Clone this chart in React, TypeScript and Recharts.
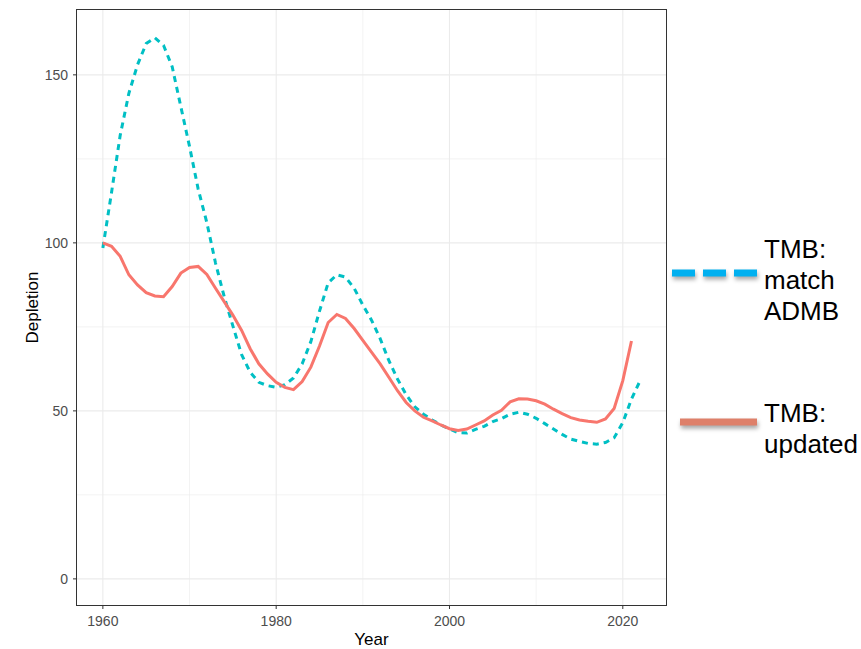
import React from 'react';
import {
  LineChart,
  Line,
  XAxis,
  YAxis,
  CartesianGrid,
  Label,
} from 'recharts';

// years and the two depletion series
const years = Array.from({length: 63}, (_, i) => 1960 + i);

const updated = [
  100, 99, 96, 90.5, 87.5, 85.2, 84.2, 84, 87, 91,
  92.7, 93, 90.6, 86.5, 82.5, 78.5, 74, 68.5, 64, 61,
  58.5, 57, 56.3, 58.7, 63, 69.3, 76.3, 78.7, 77.5, 74.5,
  71, 67.5, 64, 60, 56, 52.5, 50, 48.1, 47, 45.8,
  44.7, 44.2, 44.6, 45.8, 47, 48.8, 50.2, 52.7, 53.6, 53.5,
  53, 52, 50.5, 49.2, 48, 47.3, 46.9, 46.6, 47.6, 50.7,
  59, 70.8,
];

const matchAdmb = [
  98.5, 115, 132, 144.5, 153, 159.3, 161, 158.8, 152.4, 140.5,
  128.7, 116, 106, 94, 84, 75.3, 66.8, 61.5, 58.5, 57.5,
  57, 57.8, 59.8, 64, 70.6, 79.7, 88.1, 90.5, 89.8, 86.5,
  81.5, 77, 71.5, 65, 59.5, 54.8, 51.2, 49, 47.3, 45.8,
  44.6, 43.5, 43.4, 44.5, 45.4, 46.8, 47.7, 49, 49.6, 49,
  47.8, 46.2, 44.6, 43, 41.6, 40.9, 40.3, 40.1, 40.6, 42,
  46.5, 53.5, 59,
];

const xTicks = [1960, 1980, 2000, 2020];
const xGridMinor = [1970, 1990, 2010];
const yTicks = [0, 50, 100, 150];
const yGridMinor = [25, 75, 125];

const legendMatch = ['TMB:', 'match', 'ADMB'];
const legendUpdated = ['TMB:', 'updated'];

const data = years.map((year, i) => ({
  year,
  updated: updated[i],
  match: matchAdmb[i],
}));

const font = 'Liberation Sans, Arial, sans-serif';
const tickStyle = {fill: '#4D4D4D', fontSize: 14, fontFamily: font};

const LegendText: React.FC<{lines: string[]; top: number}> = ({lines, top}) => (
  <div
    style={{
      position: 'absolute',
      left: 764,
      top,
      fontFamily: font,
      fontSize: 26,
      lineHeight: '31px',
      color: '#000',
    }}
  >
    {lines.map((l) => (
      <div key={l}>{l}</div>
    ))}
  </div>
);

export default function App() {
  return (
    <div style={{position: 'absolute', left: 0, top: 0, width: 861, height: 649, background: '#fff'}}>
      <LineChart
        width={861}
        height={649}
        data={data}
        margin={{top: 9, right: 194, bottom: 0, left: 0}}
      >
        <CartesianGrid
          stroke="#EBEBEB"
          strokeWidth={0.6}
          horizontalValues={yGridMinor}
          verticalValues={xGridMinor}
        />
        <CartesianGrid
          stroke="#EBEBEB"
          strokeWidth={1.1}
          horizontalValues={yTicks}
          verticalValues={xTicks}
        />
        <XAxis
          dataKey="year"
          type="number"
          domain={[1956.9, 2025.1]}
          ticks={xTicks}
          allowDataOverflow
          height={43}
          axisLine={false}
          tickSize={3}
          tickMargin={7}
          tickLine={{stroke: '#333333'}}
          tick={tickStyle}
        >
          <Label
            value="Year"
            position="insideBottom"
            offset={4}
            style={{fill: '#000', fontSize: 17, fontFamily: font}}
          />
        </XAxis>
        <YAxis
          type="number"
          domain={[-8.07, 169.6]}
          ticks={yTicks}
          allowDataOverflow
          width={76}
          axisLine={false}
          tickSize={3}
          tickMargin={5}
          tickLine={{stroke: '#333333'}}
          tick={tickStyle}
        >
          <Label
            value="Depletion"
            angle={-90}
            position="insideLeft"
            offset={32}
            style={{fill: '#000', fontSize: 17, fontFamily: font, textAnchor: 'middle'}}
          />
        </YAxis>
        <Line
          type="linear"
          dataKey="match"
          stroke="#00BFC4"
          strokeWidth={3}
          strokeDasharray="6 5"
          dot={false}
          isAnimationActive={false}
        />
        <Line
          type="linear"
          dataKey="updated"
          stroke="#F8766D"
          strokeWidth={3}
          dot={false}
          isAnimationActive={false}
        />
      </LineChart>

      {/* panel border */}
      <div
        style={{
          position: 'absolute',
          left: 76,
          top: 9,
          width: 591,
          height: 597,
          boxSizing: 'border-box',
          border: '1px solid #333333',
          pointerEvents: 'none',
        }}
      />

      {/* legend drawn over the right side, like the pasted-in keys of the original */}
      <svg
        width={100}
        height={20}
        style={{position: 'absolute', left: 668, top: 263, overflow: 'visible', filter: 'drop-shadow(1px 3px 2px rgba(0,0,0,0.35))'}}
      >
        <line x1={4} y1={10} x2={89} y2={10} stroke="#00B0F0" strokeWidth={7} strokeDasharray="23 8" />
      </svg>
      <LegendText lines={legendMatch} top={233.5} />

      <svg
        width={100}
        height={20}
        style={{position: 'absolute', left: 676, top: 411.5, overflow: 'visible', filter: 'drop-shadow(1px 3px 2px rgba(0,0,0,0.35))'}}
      >
        <line x1={4} y1={10} x2={81} y2={10} stroke="#DE806A" strokeWidth={7} />
      </svg>
      <LegendText lines={legendUpdated} top={397.5} />
    </div>
  );
}
